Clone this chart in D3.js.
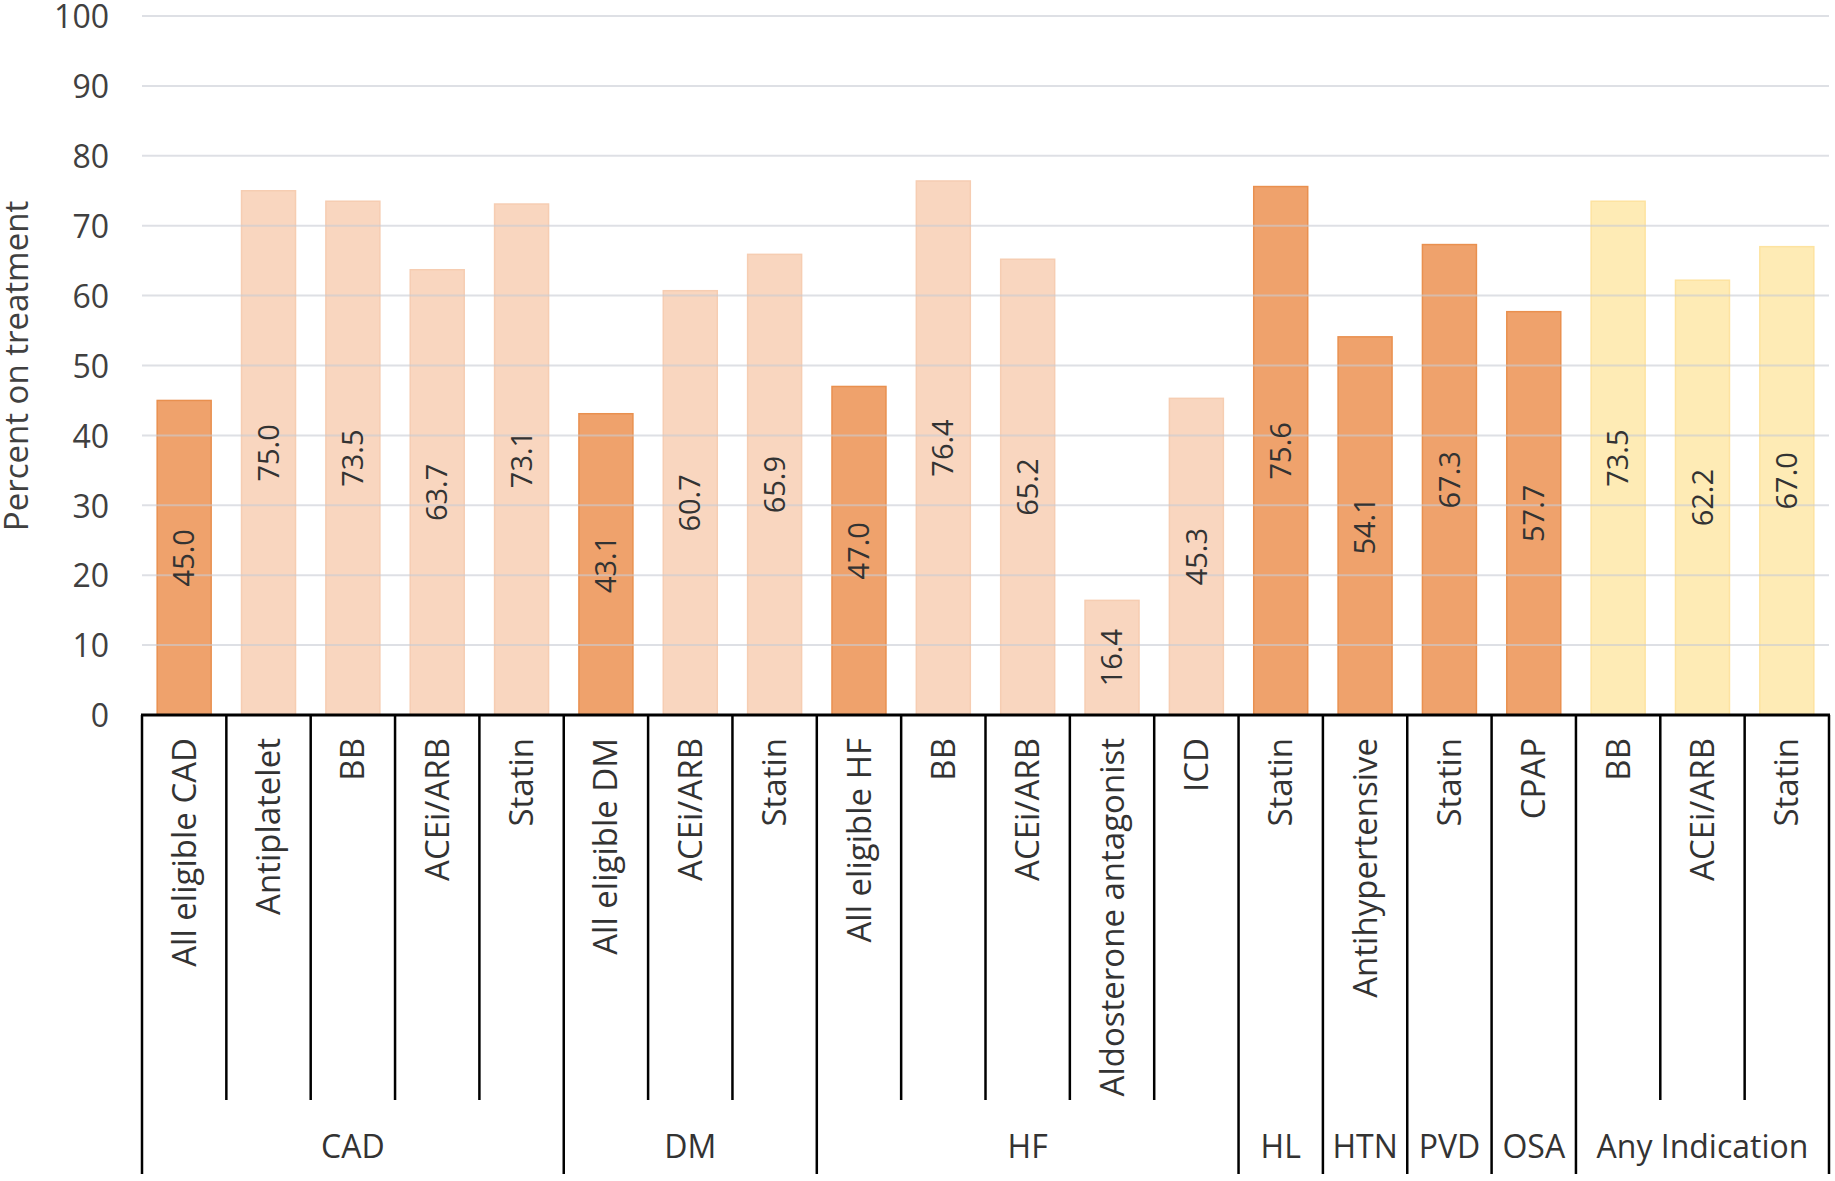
<!DOCTYPE html>
<html><head><meta charset="utf-8">
<script src="https://cdn.jsdelivr.net/npm/d3@7"></script>
<style>body{margin:0;background:#fff}svg{display:block}text{font-family:"Open Sans",sans-serif}</style>
</head><body><svg id="c" width="1835" height="1181"></svg>
<script>
const categories = ["All eligible CAD","Antiplatelet","BB","ACEi/ARB","Statin","All eligible DM","ACEi/ARB","Statin","All eligible HF","BB","ACEi/ARB","Aldosterone antagonist","ICD","Statin","Antihypertensive","Statin","CPAP","BB","ACEi/ARB","Statin"];
const groups = ["CAD","CAD","CAD","CAD","CAD","DM","DM","DM","HF","HF","HF","HF","HF","HL","HTN","PVD","OSA","Any Indication","Any Indication","Any Indication"];
const values = [45.0,75.0,73.5,63.7,73.1,43.1,60.7,65.9,47.0,76.4,65.2,16.4,45.3,75.6,54.1,67.3,57.7,73.5,62.2,67.0];
const shades = ["dark","light","light","light","light","dark","light","light","dark","light","light","light","light","dark","dark","dark","dark","yellow","yellow","yellow"];
const yTicks = [0,10,20,30,40,50,60,70,80,90,100];

const fills = {dark:"#efa26c", light:"#f9d6bf", yellow:"#feebb5"};
const strokes = {dark:"#e9904f", light:"#f6cdb2", yellow:"#fde3a0"};

const svg = d3.select("#c");
const L = 142, R = 1829, T = 16, B = 715;
const idx = categories.map((_, i) => i);
const x = d3.scaleBand().domain(idx).range([L, R]).paddingInner(0.36).paddingOuter(0.18);
const y = d3.scaleLinear().domain([0, 100]).range([B, T]);
const step = x.step();
const edge = i => x(i) - step * 0.18;

// bars
svg.append("g").selectAll("rect").data(idx).join("rect")
  .attr("x", i => x(i)).attr("width", x.bandwidth())
  .attr("y", i => y(values[i])).attr("height", i => y(0) - y(values[i]))
  .attr("fill", i => fills[shades[i]]).attr("stroke", i => strokes[shades[i]]).attr("stroke-width", 1.5);

// gridlines (drawn faintly over bars)
svg.append("g").selectAll("line").data(yTicks.filter(t => t > 0)).join("line")
  .attr("x1", L).attr("x2", R).attr("y1", d => y(d)).attr("y2", d => y(d))
  .attr("stroke", "#c8ccd4").attr("stroke-opacity", 0.6).attr("stroke-width", 2);

// y tick labels
svg.append("g").selectAll("text").data(yTicks).join("text")
  .attr("x", 109).attr("y", d => y(d) + 1).attr("dy", "0.35em").attr("text-anchor", "end")
  .attr("font-size", 32).attr("fill", "#404040").text(d => d);

// y title
svg.append("text").attr("transform", `translate(28,${366}) rotate(-90)`).attr("text-anchor", "middle")
  .attr("font-size", 33).attr("fill", "#404040").text("Percent on treatment");

// value labels
svg.append("g").selectAll("text").data(idx).join("text")
  .attr("transform", i => `translate(${x(i) + x.bandwidth() / 2},${y(values[i] / 2)}) rotate(-90)`)
  .attr("text-anchor", "middle").attr("dy", "0.35em")
  .attr("font-size", 29).attr("fill", "#333").text(i => values[i].toFixed(1));

// x axis line
svg.append("line").attr("x1", L - 1).attr("x2", R + 1).attr("y1", B).attr("y2", B).attr("stroke", "#000").attr("stroke-width", 3);

// category dividers
const isGroupEdge = b => b === 0 || b === categories.length || groups[b] !== groups[b - 1];
const bounds = d3.range(categories.length + 1);
svg.append("g").selectAll("line").data(bounds).join("line")
  .attr("x1", b => b === categories.length ? R : edge(b))
  .attr("x2", b => b === categories.length ? R : edge(b))
  .attr("y1", B).attr("y2", b => isGroupEdge(b) ? 1174 : 1100)
  .attr("stroke", "#000").attr("stroke-width", 2.5);

// category labels
svg.append("g").selectAll("text").data(idx).join("text")
  .attr("transform", i => `translate(${x(i) + x.bandwidth() / 2},${738}) rotate(-90)`)
  .attr("text-anchor", "end").attr("dy", "0.35em")
  .attr("font-size", 33).attr("fill", "#333").text(i => categories[i]);

// group labels
const groupList = [];
groups.forEach((g, i) => {
  if (i === 0 || g !== groups[i - 1]) groupList.push({name: g, start: i, end: i});
  else groupList[groupList.length - 1].end = i;
});
svg.append("g").selectAll("text").data(groupList).join("text")
  .attr("x", g => (edge(g.start) + (g.end + 1 === categories.length ? R : edge(g.end + 1))) / 2)
  .attr("y", 1147).attr("dy", "0.35em").attr("text-anchor", "middle")
  .attr("font-size", 32).attr("fill", "#333").text(g => g.name);
</script></body></html>
